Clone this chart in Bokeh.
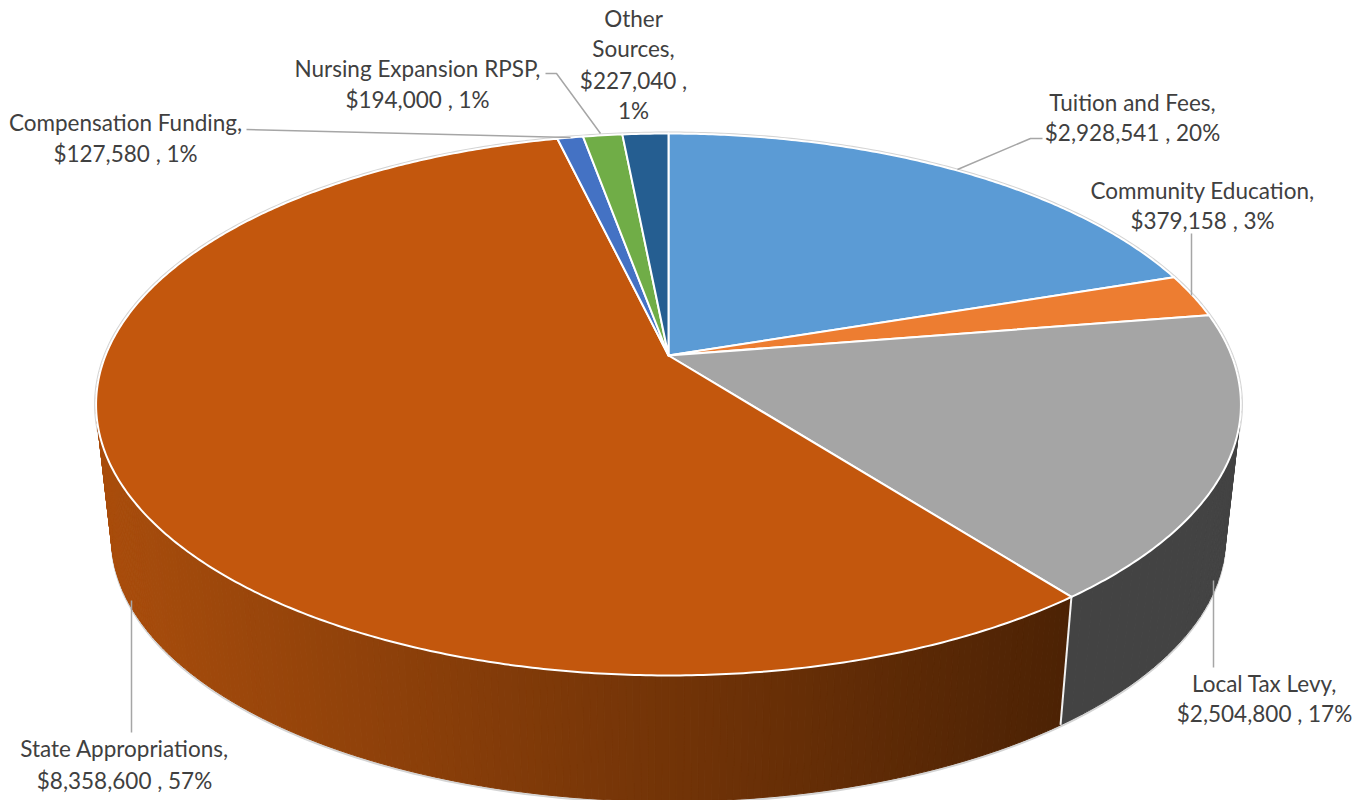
import numpy as np
from bokeh.plotting import figure
from bokeh.models import Range1d
from bokeh.core.properties import value
from bokeh.embed import file_html
from bokeh.resources import INLINE

categories = ["Tuition and Fees", "Community Education", "Local Tax Levy", "State Appropriations",
              "Compensation Funding", "Nursing Expansion RPSP", "Other Sources"]
amounts = [2928541, 379158, 2504800, 8358600, 127580, 194000, 227040]
percents = ["20%", "3%", "17%", "57%", "1%", "1%", "1%"]
top_colors = ["#5B9BD5", "#ED7D31", "#A5A5A5", "#C3570D", "#4472C4", "#70AD47", "#255E91"]

# projection of the tilted disc
CX, CY, A, B, K = 668.0, 355.0, 563.0, 262.1, 0.1808
S, CYB = 0.973, 489.5


def top(theta):
    u, v = np.sin(theta), np.cos(theta)
    d = 1 + K * v
    return CX + A * u / d, CY - B * v / d


def bottom(theta):
    x, y = top(theta)
    return CX + S * (x - CX), CYB + S * (y - CY)


def lerp_hex(t):
    c0, c1 = (0xA9, 0x4D, 0x0C), (0x4C, 0x22, 0x04)
    return "#%02x%02x%02x" % tuple(int(round(a + (b - a) * t)) for a, b in zip(c0, c1))


vals = np.array(amounts, dtype=float)
edges = np.concatenate([[0.0], np.cumsum(vals) / vals.sum()]) * 2 * np.pi

p = figure(width=1361, height=800, output_backend="svg", toolbar_location=None,
           x_range=Range1d(0, 1361), y_range=Range1d(800, 0), min_border=0)
p.axis.visible = False
p.grid.visible = False
p.outline_line_color = None
p.background_fill_color = "white"

# outer silhouette hairline
sil = np.linspace(np.radians(60), np.radians(300), 300)
bx, by = bottom(sil)
p.line(bx, by + 1.5, line_color="#d4d4d4", line_width=2)
ring = np.linspace(0, 2 * np.pi, 500)
tx, ty = top(ring)
p.line(tx, ty, line_color="#d4d4d4", line_width=4)

# side wall: Local Tax Levy, then State Appropriations with a gradient
loc_end = edges[3]
th = np.linspace(np.radians(60), loc_end, 60)
xs, ys, cs = [], [], []
for a, b in zip(th[:-1], th[1:]):
    x0, y0 = top(a); x1, y1 = top(b); x2, y2 = bottom(b); x3, y3 = bottom(a)
    xs.append([x0, x1, x2, x3]); ys.append([y0, y1, y2, y3]); cs.append("#434343")
th = np.linspace(loc_end, np.radians(300), 260)
xe = float(bottom(loc_end)[0])
xl = CX - S * 572.5
for a, b in zip(th[:-1], th[1:]):
    x0, y0 = top(a); x1, y1 = top(b); x2, y2 = bottom(b); x3, y3 = bottom(a)
    t = min(max((xe - (x2 + x3) / 2) / (xe - xl), 0), 1)
    xs.append([x0, x1, x2, x3]); ys.append([y0, y1, y2, y3]); cs.append(lerp_hex(1 - t))
p.patches(xs, ys, fill_color=cs, line_color=cs, line_width=1)

# white seam on the side
sx0, sy0 = top(loc_end)
sx1, sy1 = bottom(loc_end)
p.line([sx0, sx1], [sy0, sy1], line_color="#f2f2f2", line_width=2)

# top face
for i in range(len(amounts)):
    arc = np.linspace(edges[i], edges[i + 1], max(int((edges[i + 1] - edges[i]) * 120), 8))
    ax, ay = top(arc)
    p.patch(np.concatenate([[CX], ax, [CX]]), np.concatenate([[CY], ay, [CY]]),
            fill_color=top_colors[i], line_color="white", line_width=2, line_join="round")

# leader lines
leaders = [
    ([1042, 1030, 957], [138, 138, 169]),
    ([1191, 1191], [233, 295]),
    ([1213, 1213], [667, 580]),
    ([131, 131], [732, 600]),
    ([246, 570], [129, 137]),
    ([545, 556, 600], [73, 73, 133]),
]
for lx, ly in leaders:
    p.line(lx, ly, line_color="#a6a6a6", line_width=1.5)


def money(v):
    return "${:,} ".format(v)


# label lines, built from the data
lab = []
lab += [(1132, 102, categories[0] + ","), (1132, 132, money(amounts[0]) + ", " + percents[0])]
lab += [(1202, 190, categories[1] + ","), (1202, 220, money(amounts[1]) + ", " + percents[1])]
lab += [(1264, 683, categories[2] + ","), (1264, 713, money(amounts[2]) + ", " + percents[2])]
lab += [(124, 748, categories[3] + ","), (124, 780, money(amounts[3]) + ", " + percents[3])]
lab += [(125, 122, categories[4] + ","), (125, 153, money(amounts[4]) + ", " + percents[4])]
lab += [(417, 68, categories[5] + ","), (417, 99, money(amounts[5]) + ", " + percents[5])]
w1, w2 = categories[6].split(" ")
lab += [(633, 18, w1), (633, 48, w2 + ","), (633, 80, money(amounts[6]) + ","), (633, 110, percents[6])]

p.text([l[0] for l in lab], [l[1] for l in lab], text=[l[2] for l in lab],
       text_font=value("Lato"), text_font_size="22.5px", text_color="#404040",
       text_align="center", text_baseline="middle")

open("out.html", "w").write(file_html(p, INLINE))
